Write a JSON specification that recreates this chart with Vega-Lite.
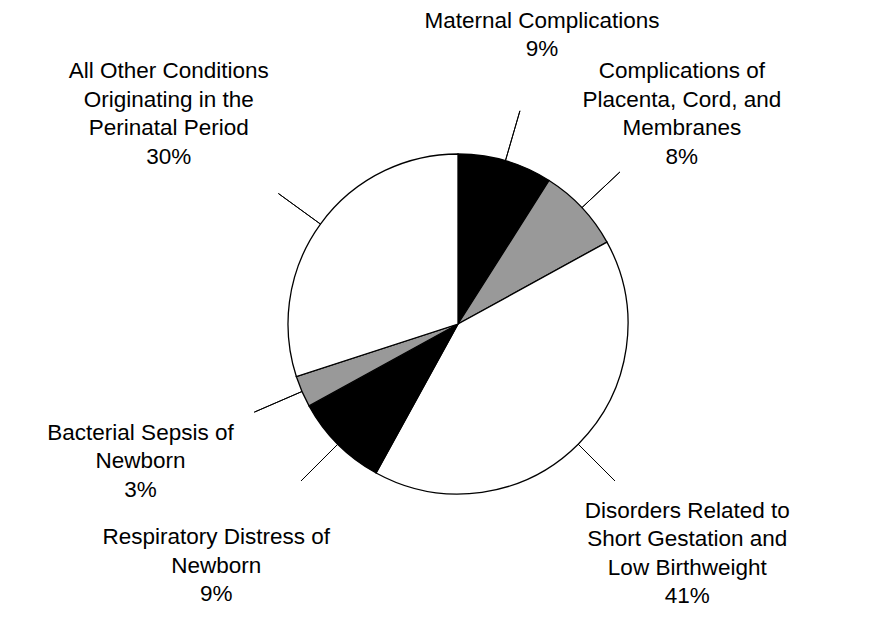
{
  "$schema": "https://vega.github.io/schema/vega-lite/v6.json",
  "width": 886,
  "height": 642,
  "autosize": {"type": "fit", "contains": "padding"},
  "padding": {"left": 30, "top": 6, "right": 0, "bottom": 0},
  "background": "white",
  "config": {"view": {"stroke": null}},
  "data": {
    "values": [
      {"ord": 1, "name": "Maternal Complications", "pct": 9},
      {"ord": 2, "name": "Complications of\nPlacenta, Cord, and\nMembranes", "pct": 8},
      {"ord": 3, "name": "Disorders Related to\nShort Gestation and\nLow Birthweight", "pct": 41},
      {"ord": 4, "name": "Respiratory Distress of\nNewborn", "pct": 9},
      {"ord": 5, "name": "Bacterial Sepsis of\nNewborn", "pct": 3},
      {"ord": 6, "name": "All Other Conditions\nOriginating in the\nPerinatal Period", "pct": 30}
    ]
  },
  "layer": [
    {
      "mark": {"type": "arc", "outerRadius": 170, "stroke": "black", "strokeWidth": 1.3},
      "encoding": {
        "theta": {"field": "pct", "type": "quantitative", "stack": true, "scale": {"domain": [0, 100]}},
        "order": {"field": "ord", "type": "quantitative"},
        "color": {
          "field": "name", "type": "nominal", "legend": null,
          "scale": {
            "domain": ["Maternal Complications", "Complications of\nPlacenta, Cord, and\nMembranes", "Disorders Related to\nShort Gestation and\nLow Birthweight", "Respiratory Distress of\nNewborn", "Bacterial Sepsis of\nNewborn", "All Other Conditions\nOriginating in the\nPerinatal Period"],
            "range": ["#000000", "#999999", "#ffffff", "#000000", "#999999", "#ffffff"]
          }
        }
      }
    },
    {
      "transform": [
        {"window": [{"op": "sum", "field": "pct", "as": "cum"}], "sort": [{"field": "ord"}]},
        {"calculate": "datum.cum - datum.pct / 2", "as": "mid"}
      ],
      "mark": {"type": "arc", "radius": 222, "radius2": 170, "stroke": "black", "strokeWidth": 1, "fill": null},
      "encoding": {
        "theta": {"field": "mid", "type": "quantitative", "stack": null, "scale": {"domain": [0, 100]}},
        "theta2": {"field": "mid"}
      }
    },
    {
      "transform": [
        {"window": [{"op": "sum", "field": "pct", "as": "cum"}], "sort": [{"field": "ord"}]},
        {"calculate": "datum.cum - datum.pct / 2", "as": "mid"},
        {"calculate": "datum.name + '\\n' + datum.pct + '%'", "as": "label"}
      ],
      "mark": {"type": "text", "font": "Liberation Sans", "fontSize": 22.5, "lineHeight": 28.5, "lineBreak": "\n", "align": "center", "baseline": "middle", "color": "black",
        "dy": {"expr": "-(length(split(datum.label, '\\n')) - 1) * 14.25"}},
      "encoding": {
        "theta": {"field": "mid", "type": "quantitative", "stack": null, "scale": {"domain": [0, 100]}},
        "radius": {"field": "mid", "type": "quantitative", "scale": {"type": "linear", "zero": false, "domain": [0, 100], "range": [298, 368]}},
        "text": {"field": "label", "type": "nominal"}
      }
    }
  ]
}
